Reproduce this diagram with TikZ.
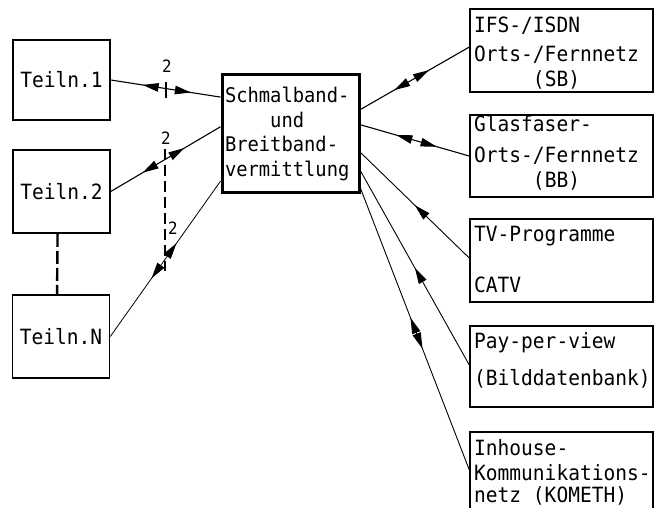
\documentclass[tikz,border=0pt]{standalone}
\usepackage{fontspec}
\newfontfamily\tfont{DejaVu Sans Mono}[FakeStretch=0.93]
\usetikzlibrary{arrows.meta,calc,decorations.markings}
\tikzset{
  box/.style={draw, line width=1.6pt, inner xsep=3pt, inner ysep=0pt},
  fs/.style={font=\tfont\fontsize{21}{#1}\selectfont},
  rbox/.style={box, minimum width=183pt},
  rtext/.style={anchor=base west, inner sep=0pt, fs=21},
  lbox/.style={box, minimum width=97pt, align=center, fs=24},
  conn/.style={line width=1.1pt},
  lab/.style={font=\tfont\fontsize{17}{17}\selectfont, inner sep=0pt},
  both/.style 2 args={postaction={decorate}, decoration={markings,
     mark=at position #1 with {\arrowreversed{Triangle[length=16pt,width=8.5pt]}},
     mark=at position #2 with {\arrow{Triangle[length=16pt,width=8.5pt]}}}},
  toward/.style={postaction={decorate}, decoration={markings,
     mark=at position #1 with {\arrowreversed{Triangle[length=16pt,width=8.5pt]}}}},
  bus/.style={line width=2.2pt, dash pattern=on 11pt off 5pt},
}
\begin{document}
\begin{tikzpicture}[x=1pt,y=-1pt]
\useasboundingbox (0,0) rectangle (662,508);
\clip (0,0) rectangle (662,508);

% subscriber boxes
\node[lbox, minimum height=80pt] (t1) at (61.5,80) {Teiln.1};
\node[lbox, minimum height=83pt] (t2) at (61.5,191.5) {Teiln.2};
\node[lbox, minimum height=83pt] (tN) at (61,336.5) {Teiln.N};

% switch
\node[box, line width=3pt, inner xsep=3pt, minimum width=137pt, minimum height=118pt,
      text width=131pt, align=left, font=\tfont\fontsize{20.2}{24.5}\selectfont] (sw) at (290.5,134)
  {Schmalband-\\\phantom{Schm}und\\Breitband-\\vermittlung};

% right boxes
\node[rbox, minimum height=83pt] (ifs) at (561.5,50.5) {};
\node[rbox, minimum height=82pt] (glas) at (561.5,156) {};
\node[rbox, minimum height=83pt] (tv) at (561.5,260.5) {};
\node[rbox, minimum height=81pt] (pay) at (561.5,366.5) {};
\node[rbox, minimum height=90pt] (inh) at (561.5,477) {};

% right box texts
\node[rtext] (ifsa) at (474,33) {IFS-/ISDN};
\node[rtext] (ifsb) at (474,62) {Orts-/Fernnetz};
\node[rtext] (ifsc) at (474,87) {\phantom{Orts-}(SB)};
\node[rtext] (glasa) at (474,132) {Glasfaser-};
\node[rtext] (glasb) at (474,163) {Orts-/Fernnetz};
\node[rtext] (glasc) at (474,188) {\phantom{Orts-}(BB)};
\node[rtext] (tva) at (474,242) {TV-Programme};
\node[rtext] (tvb) at (474,292) {CATV};
\node[rtext] (paya) at (474,348) {Pay-per-view};
\node[rtext] (payb) at (474,385) {(Bilddatenbank)};
\node[rtext] (inha) at (474,455) {Inhouse-};
\node[rtext] (inhb) at (474,480) {Kommunikations-};
\node[rtext] (inhc) at (474,502) {netz (KOMETH)};

% left connectors
\draw[conn, both={0.29}{0.73}] (t1.east) -- ($(sw.north west)!0.195!(sw.south west)$);
\draw[conn, both={0.29}{0.67}] (t2.east) -- ($(sw.north west)!0.44!(sw.south west)$);
\draw[conn, line width=0.8pt, both={0.375}{0.6}] (tN.east) -- ($(sw.north west)!0.89!(sw.south west)$);

% right connectors
\draw[conn, both={0.31}{0.63}] ($(sw.north east)!0.297!(sw.south east)$) -- ($(ifs.north west)!0.46!(ifs.south west)$);
\draw[conn, both={0.33}{0.70}] ($(sw.north east)!0.424!(sw.south east)$) -- (glas.west);
\draw[conn, line width=0.9pt, toward={0.5}] ($(sw.north east)!0.653!(sw.south east)$) -- ($(tv.north west)!0.47!(tv.south west)$);
\draw[conn, line width=0.9pt, toward={0.5}] ($(sw.north east)!0.805!(sw.south east)$) -- ($(pay.north west)!0.48!(pay.south west)$);
\draw[conn, line width=0.9pt, both={0.46}{0.57}] ($(sw.north east)!0.949!(sw.south east)$) -- ($(inh.north west)!0.42!(inh.south west)$);

% dashed link between subscribers
\draw[line width=2.4pt, dash pattern=on 13pt off 4pt]
  ($(t2.south west)!0.46!(t2.south east)$) -- ($(tN.north west)!0.46!(tN.north east)$);

% wire count marks
\coordinate (k1) at (166,82);
\coordinate (k2) at (166,98);
\draw[line width=2pt] (k1) -- (k2);
\coordinate (b1) at (165,149);
\coordinate (b2) at (165,271);
\draw[bus] (b1) -- (b2);
\node[lab] (n1) at (167,66) {2};
\node[lab] (n2) at (166,138) {2};
\node[lab] (n3) at (173,228) {2};
\end{tikzpicture}
\end{document}
